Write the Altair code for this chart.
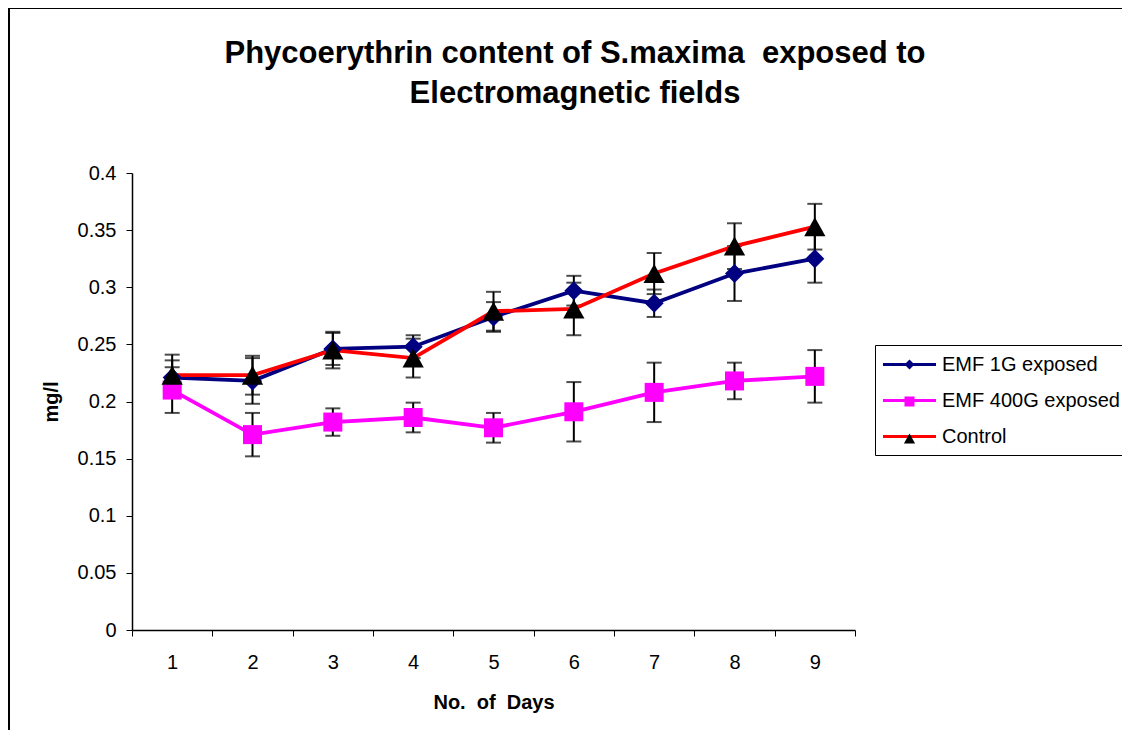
import altair as alt
import pandas as pd

days = [1, 2, 3, 4, 5, 6, 7, 8, 9]
series_names = ["EMF 1G exposed", "EMF 400G exposed", "Control"]
series_codes = ["1G", "400G", "C"]

emf1g = [0.221, 0.218, 0.246, 0.248, 0.274, 0.297, 0.286, 0.312, 0.325]
emf1g_err = [0.015, 0.020, 0.014, 0.010, 0.013, 0.013, 0.012, 0.024, 0.021]
emf400 = [0.210, 0.171, 0.182, 0.186, 0.177, 0.191, 0.208, 0.218, 0.222]
emf400_err = [0.020, 0.019, 0.012, 0.013, 0.013, 0.026, 0.026, 0.016, 0.023]
control = [0.223, 0.223, 0.245, 0.238, 0.279, 0.281, 0.312, 0.336, 0.353]
control_err = [0.018, 0.017, 0.016, 0.017, 0.017, 0.023, 0.018, 0.020, 0.020]

y_ticks = [0, 0.05, 0.1, 0.15, 0.2, 0.25, 0.3, 0.35, 0.4]

title_text = "Phycoerythrin content of S.maxima\u00a0 exposed to\nElectromagnetic fields"
x_title = "No.\u00a0 of\u00a0 Days"
y_title = "mg/l"

colors_line = ["#000080", "#FF00FF", "#FF0000"]
colors_marker = ["#000080", "#FF00FF", "#000000"]
marker_paths = [
    "M0,-0.5L0.5,0L0,0.5L-0.5,0Z",
    "M-0.5,-0.5H0.5V0.5H-0.5Z",
    "M0,-0.5L0.56,0.5L-0.56,0.5Z",
]

rows = []
for name, code, vals, errs in zip(series_names, series_codes,
                                  [emf1g, emf400, control],
                                  [emf1g_err, emf400_err, control_err]):
    for d, v, e in zip(days, vals, errs):
        rows.append({"series": name, "code": code, "day": d, "value": v,
                     "lo": v - e, "hi": v + e})
df = pd.DataFrame(rows)

FONT = "Liberation Sans"

x_enc = alt.X(
    "day:O",
    scale=alt.Scale(paddingInner=0, paddingOuter=0),
    axis=alt.Axis(title=x_title, labelAngle=0, tickBand="extent",
                  labelPadding=16, titlePadding=20),
)
y_scale = alt.Scale(domain=[0, 0.4], nice=False, zero=True)
y_axis = alt.Axis(values=y_ticks, format="~g", title=y_title,
                  labelPadding=10, titlePadding=16)

base = alt.Chart(df)

legend_common = dict(
    title=None, orient="none", legendX=743, legendY=172, direction="vertical",
    symbolSize=400, symbolStrokeWidth=3, labelFontSize=20, labelFont=FONT,
    labelColor="black", padding=8, rowPadding=14, symbolOffset=15,
    labelOffset=21, labelLimit=400,
)

rule = base.mark_rule(color="black", strokeWidth=2).encode(
    x=x_enc, y=alt.Y("lo:Q", scale=y_scale, axis=y_axis), y2="hi:Q"
)
cap_lo = base.mark_tick(color="black", thickness=2, size=15).encode(
    x=x_enc, y=alt.Y("lo:Q", scale=y_scale, axis=y_axis)
)
cap_hi = base.mark_tick(color="black", thickness=2, size=15).encode(
    x=x_enc, y=alt.Y("hi:Q", scale=y_scale, axis=y_axis)
)

lines = base.mark_line(strokeWidth=3.8).encode(
    x=x_enc,
    y=alt.Y("value:Q", scale=y_scale, axis=y_axis),
    color=alt.Color(
        "series:N",
        scale=alt.Scale(domain=series_names, range=colors_line),
        legend=alt.Legend(symbolType="M-2.65,0H2.65", strokeColor="black",
                          **legend_common),
    ),
)

marker_legend = alt.Legend(symbolStrokeColor="transparent", labelExpr="''",
                           **legend_common)
points = base.mark_point(filled=True, size=1444, opacity=1).encode(
    x=x_enc,
    y=alt.Y("value:Q", scale=y_scale, axis=y_axis),
    fill=alt.Fill("code:N", scale=alt.Scale(domain=series_codes, range=colors_marker),
                  legend=marker_legend),
    shape=alt.Shape("code:N", scale=alt.Scale(domain=series_codes, range=marker_paths),
                    legend=marker_legend),
)

frame = alt.Chart(pd.DataFrame({"a": [0]})).mark_rect(
    filled=False, stroke="black", strokeWidth=2
).encode(
    x=alt.value(-123), x2=alt.value(1100), y=alt.value(-165), y2=alt.value(700)
)

title = alt.Chart(pd.DataFrame({"t": [title_text]})).mark_text(
    font=FONT, fontSize=31, fontWeight="bold", color="black", align="center",
    baseline="alphabetic", lineHeight=40, lineBreak="\n",
).encode(text="t:N", x=alt.value(443), y=alt.value(-110))

chart = alt.layer(frame, title, rule, cap_lo, cap_hi, lines, points).properties(
    width=723,
    height=457,
    autosize=alt.AutoSizeParams(type="none"),
    padding={"left": 124, "top": 165, "right": 267, "bottom": 100},
).configure_axis(
    labelFont=FONT, labelFontSize=20, labelColor="black",
    titleFont=FONT, titleFontSize=20, titleFontWeight="bold", titleColor="black",
    domainColor="black", tickColor="black", tickSize=6, grid=False, domainWidth=1.5,
).configure_view(stroke=None).configure_legend(labelFont=FONT)

chart.save("out.html", embed_options={"renderer": "svg", "actions": False})
